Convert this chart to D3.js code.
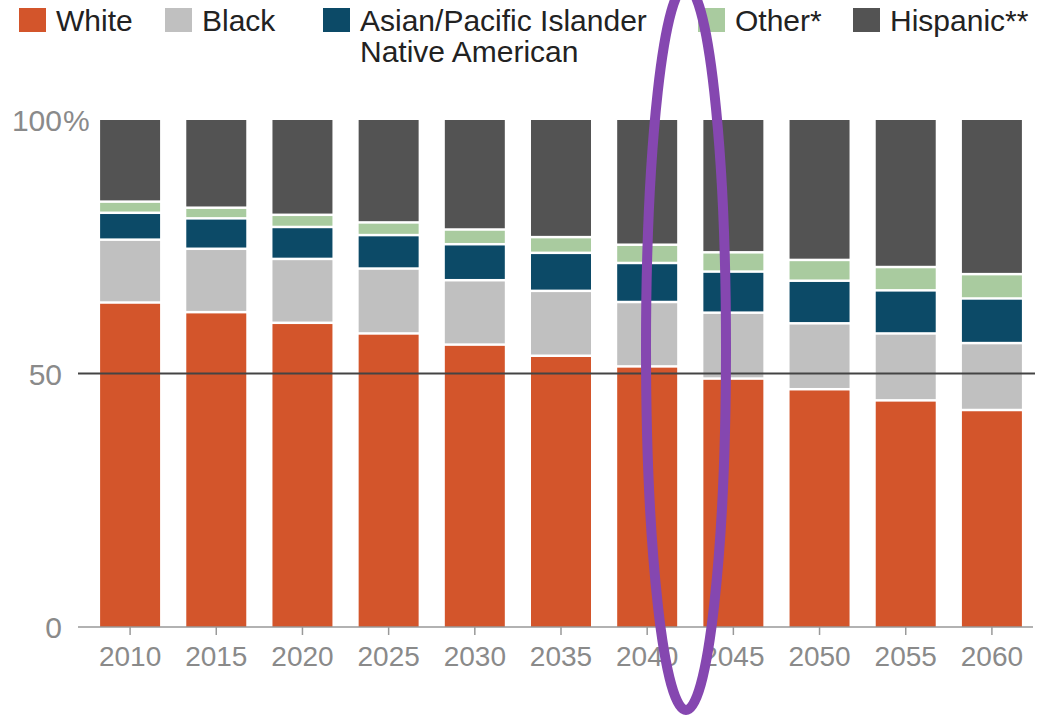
<!DOCTYPE html>
<html>
<head>
<meta charset="utf-8">
<script src="https://cdn.jsdelivr.net/npm/d3@7"></script>
<style>
  body { margin: 0; background: #fff; }
  svg { display: block; font-family: "Liberation Sans", Arial, sans-serif; }
</style>
</head>
<body>
<div id="chart"></div>
<script>
var years = ['2010', '2015', '2020', '2025', '2030', '2035', '2040', '2045', '2050', '2055', '2060'];
var white    = [64.0, 62.1, 60.0, 57.9, 55.7, 53.5, 51.4, 49.0, 46.9, 44.7, 42.8];
var black    = [12.4, 12.5, 12.6, 12.8, 12.7, 12.8, 12.7, 13.0, 13.0, 13.2, 13.2];
var asian    = [5.3, 6.0, 6.3, 6.6, 7.1, 7.5, 7.7, 8.1, 8.4, 8.5, 8.8];
var other    = [2.2, 2.1, 2.4, 2.5, 2.9, 3.1, 3.6, 3.8, 4.1, 4.6, 4.8];
var hispanic = [16.1, 17.3, 18.7, 20.2, 21.6, 23.1, 24.6, 26.1, 27.6, 29.0, 30.4];
var yTicks = [0, 50, 100];

var keys = ['white', 'black', 'asian', 'other', 'hispanic'];
var colors = {
  white: '#d3552b', black: '#c0c0c0', asian: '#0c4a67',
  other: '#a9cb9f', hispanic: '#535353'
};

var rows = years.map(function(y, i) {
  return { year: y, white: white[i], black: black[i], asian: asian[i],
           other: other[i], hispanic: hispanic[i] };
});

var svg = d3.select('#chart')
  .append('svg')
    .attr('width', 1049)
    .attr('height', 716);

var x = d3.scaleBand()
  .domain(years)
  .range([87, 1035])
  .paddingInner(0.304)
  .paddingOuter(0.152);

var y = d3.scaleLinear()
  .domain([0, 100])
  .range([627, 120]);

var stack = d3.stack().keys(keys)(rows);
var gap = 1.25;

svg.append('g')
  .selectAll('g')
  .data(stack)
  .join('g')
    .attr('fill', function(d) { return colors[d.key]; })
  .selectAll('rect')
  .data(function(d) { return d; })
  .join('rect')
    .attr('x', function(d) { return x(d.data.year); })
    .attr('width', x.bandwidth())
    .attr('y', function(d) { return y(d[1]) + (d[1] < 99.9 ? gap : 0); })
    .attr('height', function(d) {
      var top = y(d[1]) + (d[1] < 99.9 ? gap : 0);
      var bot = y(d[0]) - (d[0] > 0.1 ? gap : 0);
      return Math.max(0, bot - top);
    });

// 50% reference line
svg.append('line')
  .attr('x1', 78).attr('x2', 1035)
  .attr('y1', y(50)).attr('y2', y(50))
  .attr('stroke', '#444')
  .attr('stroke-width', 2);

// x axis
var xAxis = svg.append('g')
  .attr('transform', 'translate(0,' + y(0) + ')')
  .call(d3.axisBottom(x).tickSize(8).tickSizeOuter(0));
xAxis.select('.domain').remove();
xAxis.append('line')
  .attr('x1', 78).attr('x2', 1033)
  .attr('stroke', '#999').attr('stroke-width', 1.5);
xAxis.selectAll('.tick line').attr('stroke', '#999').attr('stroke-width', 1.5);
xAxis.selectAll('.tick text')
  .attr('y', 19)
  .attr('fill', '#8a8a8a')
  .style('font-family', '"Liberation Sans", Arial, sans-serif')
  .style('font-size', '28px');

// y labels
var yl = svg.append('g');
yl.selectAll('text')
  .data(yTicks)
  .join('text')
    .attr('x', 62)
    .attr('y', function(d) { return y(d) + 11; })
    .attr('text-anchor', 'end')
    .attr('fill', '#8a8a8a')
    .style('font-size', '30px')
    .text(function(d) { return d; });
yl.append('text')
  .attr('x', 63)
  .attr('y', y(100) + 11)
  .attr('fill', '#8a8a8a')
  .style('font-size', '30px')
  .text('%');

// legend
var legend = [
  { key: 'white', x: 19, lines: ['White'] },
  { key: 'black', x: 165, lines: ['Black'] },
  { key: 'asian', x: 323, lines: ['Asian/Pacific Islander', 'Native American'] },
  { key: 'other', x: 698, lines: ['Other*'] },
  { key: 'hispanic', x: 853, lines: ['Hispanic**'] }
];
var lg = svg.append('g').selectAll('g')
  .data(legend)
  .join('g')
    .attr('transform', function(d) { return 'translate(' + d.x + ',0)'; });
lg.append('rect')
  .attr('y', 8)
  .attr('width', 27)
  .attr('height', 24)
  .attr('fill', function(d) { return colors[d.key]; });
lg.append('text')
  .attr('x', 37)
  .attr('fill', '#222')
  .style('font-size', '30px')
  .selectAll('tspan')
  .data(function(d) { return d.lines; })
  .join('tspan')
    .attr('x', 37)
    .attr('y', function(d, i) { return 31 + i * 31; })
    .text(function(d) { return d; });

// purple hand-drawn ellipse
svg.append('ellipse')
  .attr('cx', 686)
  .attr('cy', 348)
  .attr('rx', 40)
  .attr('ry', 362)
  .attr('fill', 'none')
  .attr('stroke', '#8547b0')
  .attr('stroke-width', 10);
</script>
</body>
</html>
